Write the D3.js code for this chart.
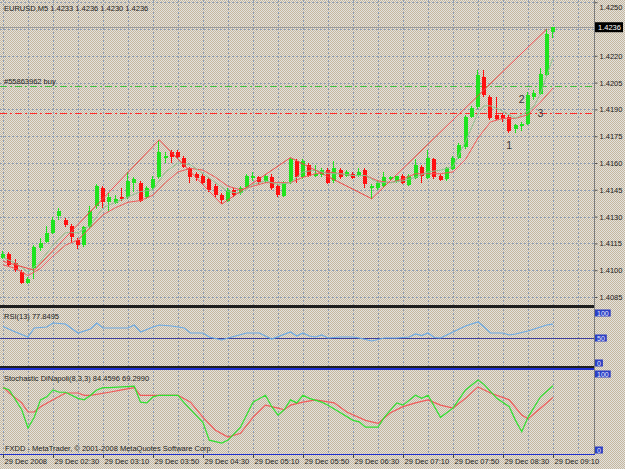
<!DOCTYPE html>
<html>
<head>
<meta charset="utf-8">
<script src="https://cdn.jsdelivr.net/npm/d3@7"></script>
<style>
  html, body { margin: 0; padding: 0; background: #d6d1c8; }
  svg { display: block; }
  text { font-family: "Liberation Sans", Arial, sans-serif; font-size: 7.5px; fill: #1c1c1c; }
</style>
</head>
<body>
<svg id="chart" width="625" height="469"></svg>
<script>
// EURUSD M5 candles, 29 Dec 2008 01:50 - 09:10
const opens = [1.4107,1.4109,1.4104,1.4099,1.4093,1.4101,1.4112,1.4116,1.4121,1.4130,1.4128,1.4125,1.4117,1.4114,1.4124,1.4136,1.4146,1.4138,1.4138,1.4141,1.4141,1.4149,1.4149,1.4141,1.4146,1.4152,1.4163,1.4166,1.4166,1.4163,1.4157,1.4154,1.4153,1.4151,1.4147,1.4142,1.4139,1.4145,1.4143,1.4147,1.4152,1.4152,1.4150,1.4152,1.4147,1.4142,1.4149,1.4161,1.4152,1.4159,1.4153,1.4153,1.4156,1.4150,1.4156,1.4153,1.4154,1.4153,1.4156,1.4146,1.4146,1.4147,1.4151,1.4150,1.4153,1.4148,1.4152,1.4158,1.4152,1.4162,1.4153,1.4151,1.4157,1.4163,1.4169,1.4186,1.4191,1.4208,1.4197,1.4187,1.4187,1.4186,1.4179,1.4181,1.4182,1.4197,1.4199,1.4209,1.4233];
const highs = [1.4111,1.4110,1.4106,1.4100,1.4096,1.4114,1.4118,1.4125,1.4130,1.4135,1.4129,1.4126,1.4118,1.4125,1.4136,1.4148,1.4147,1.4143,1.4142,1.4146,1.4155,1.4152,1.4150,1.4147,1.4153,1.4173,1.4166,1.4167,1.4167,1.4164,1.4158,1.4155,1.4154,1.4152,1.4148,1.4143,1.4146,1.4146,1.4147,1.4154,1.4155,1.4153,1.4154,1.4154,1.4148,1.4150,1.4163,1.4162,1.4162,1.4160,1.4159,1.4157,1.4157,1.4161,1.4157,1.4156,1.4155,1.4157,1.4157,1.4148,1.4150,1.4155,1.4153,1.4153,1.4154,1.4154,1.4162,1.4159,1.4167,1.4163,1.4154,1.4158,1.4164,1.4171,1.4187,1.4192,1.4212,1.4212,1.4198,1.4197,1.4188,1.4187,1.4182,1.4183,1.4200,1.4201,1.4213,1.4235,1.4236];
const lows = [1.4106,1.4102,1.4099,1.4092,1.4092,1.4095,1.4111,1.4115,1.4120,1.4128,1.4124,1.4115,1.4112,1.4113,1.4123,1.4134,1.4135,1.4133,1.4137,1.4139,1.4140,1.4144,1.4138,1.4140,1.4145,1.4151,1.4160,1.4160,1.4162,1.4157,1.4149,1.4150,1.4148,1.4144,1.4141,1.4137,1.4138,1.4141,1.4142,1.4146,1.4150,1.4148,1.4149,1.4145,1.4141,1.4141,1.4148,1.4149,1.4151,1.4152,1.4152,1.4152,1.4148,1.4149,1.4151,1.4152,1.4151,1.4152,1.4146,1.4140,1.4145,1.4146,1.4150,1.4149,1.4148,1.4147,1.4151,1.4149,1.4151,1.4151,1.4150,1.4150,1.4156,1.4162,1.4168,1.4185,1.4190,1.4197,1.4184,1.4184,1.4183,1.4177,1.4177,1.4178,1.4181,1.4195,1.4198,1.4208,1.4230];
const closes = [1.4109,1.4103,1.4100,1.4093,1.4095,1.4113,1.4115,1.4121,1.4128,1.4133,1.4125,1.4119,1.4114,1.4124,1.4133,1.4147,1.4138,1.4141,1.4140,1.4140,1.4150,1.4151,1.4139,1.4146,1.4151,1.4166,1.4164,1.4163,1.4163,1.4158,1.4152,1.4152,1.4149,1.4145,1.4142,1.4139,1.4145,1.4142,1.4146,1.4153,1.4153,1.4149,1.4153,1.4146,1.4142,1.4149,1.4162,1.4152,1.4161,1.4153,1.4154,1.4156,1.4149,1.4157,1.4152,1.4155,1.4152,1.4155,1.4148,1.4147,1.4149,1.4152,1.4152,1.4153,1.4149,1.4153,1.4159,1.4153,1.4163,1.4152,1.4151,1.4157,1.4163,1.4170,1.4186,1.4191,1.4209,1.4198,1.4185,1.4185,1.4185,1.4178,1.4181,1.4182,1.4198,1.4199,1.4210,1.4232,1.4236];

// moving averages (bar index, price)
const fastBars = [0,2,4,6,8,10,12,14,16,18,20,22,24,26,28,30,32,34,36,38,40,42,44,46,48,50,52,54,56,58,60,62,64,66,68,70,72,74,76,77,78,80,82,84,85,86,87,88];
const fastMA = [1.4107,1.4104,1.4099,1.4105,1.4114,1.4121,1.4121,1.4125,1.4135,1.4138,1.4141,1.4144,1.4145,1.4155,1.4160,1.4159,1.4154,1.4149,1.4144,1.4143,1.4148,1.4150,1.4148,1.4149,1.4155,1.4156,1.4154,1.4154,1.4153,1.4153,1.4149,1.4149,1.4150,1.4152,1.4155,1.4156,1.4158,1.4172,1.4188,1.4192,1.4192,1.4189,1.4185,1.4189,1.4192,1.4199,1.4209,1.4219];
const slowBars = [0,2,4,6,8,10,12,14,16,18,20,22,24,26,28,30,32,34,36,38,40,42,44,46,48,50,52,54,56,58,60,62,64,66,68,70,72,74,76,78,80,82,84,86,88];
const slowMA = [1.4103,1.4101,1.4097,1.4101,1.4108,1.4114,1.4117,1.4124,1.4131,1.4135,1.4138,1.4139,1.4142,1.4149,1.4155,1.4157,1.4156,1.4152,1.4147,1.4145,1.4147,1.4149,1.4149,1.4149,1.4152,1.4154,1.4155,1.4154,1.4153,1.4153,1.4150,1.4149,1.4151,1.4154,1.4154,1.4154,1.4155,1.4162,1.4174,1.4183,1.4185,1.4185,1.4187,1.4194,1.4202];

// zigzag turning points
const zzBars = [0,5,25,35,46,59,87];
const zzPrices = [1.4105,1.4100,1.4173,1.4137,1.4163,1.4140,1.4235];

// RSI(13)
const rsiBars = [0,2,4,5,7,8,10,12,14,15,16,20,21,22,24,25,27,29,30,32,33,35,36,39,41,43,46,47,48,49,50,51,52,54,56,57,59,61,63,65,66,67,68,69,70,71,72,73,74,76,77,78,80,81,82,84,86,87,88];
const rsiVals = [73,62,52,70,72,80,78,60,68,80,70,70,76,62,72,76,74,70,60,60,52,46,50,60,60,48,62,54,60,54,52,56,50,52,52,50,44,50,50,52,58,55,60,51,50,56,62,68,74,82,72,60,60,56,58,64,72,76,77.85];

// Stochastic DiNapoli(8,3,3)
const kBars = [0,1,3,4,5,6,7,8,9,10,12,13,14,15,16,17,19,21,22,23,24,25,28,29,32,33,35,36,38,40,42,43,44,45,46,47,48,49,51,52,54,56,57,58,60,61,63,64,66,67,68,70,72,74,76,77,79,81,82,83,84,86,88];
const kVals = [82,79,53,29,43,66,70,79,76,76,68,66,72,79,82,82,83,84,63,62,70,72,72,62,36,13,9,13,30,63,72,57,46,53,66,62,72,68,63,59,49,39,37,30,30,43,62,59,72,68,72,43,55,79,92,86,68,57,39,24,43,70,84.46];
const dBars = [0,1,3,4,5,6,8,10,12,13,14,17,19,21,22,24,28,30,32,34,36,38,40,42,44,45,46,48,50,53,55,58,60,62,64,66,68,70,72,74,76,78,81,83,84,86,88];
const dVals = [83,75,62,50,50,57,66,75,75,72,72,76,79,82,72,72,72,63,43,26,17,22,43,59,55,53,59,63,66,62,50,39,35,49,57,62,66,59,55,68,83,75,66,46,41,55,69.30];

// axes
const priceTicks = [1.4085,1.4100,1.4115,1.4130,1.4145,1.4160,1.4175,1.4190,1.4205,1.4220,1.4235,1.4250];
const timeBars = [0,8,16,24,32,40,48,56,64,72,80,88];
const timeLabels = ["29 Dec 2008","29 Dec 02:30","29 Dec 03:10","29 Dec 03:50","29 Dec 04:30","29 Dec 05:10","29 Dec 05:50","29 Dec 06:30","29 Dec 07:10","29 Dec 07:50","29 Dec 08:30","29 Dec 09:10"];

// objects on chart
const bidPrice = 1.4236;
const buyPrice = 1.4203;
const slPrice = 1.4188;
const marks = ["1","2","3"];
const markBars = [81,83,86];
const markPrices = [1.4170,1.4196,1.4188];

[highs, lows, closes].forEach(a => { if (a.length !== opens.length) throw new Error("ohlc length"); });

const svg = d3.select("#chart");
const W = 625, H = 469, axisX = 594;
const mainTop = 0, mainBottom = 305;
const rsiTop = 309, rsiBottom = 366;
const stTop = 371, stBottom = 453;

// dithered backdrop like the gif
const defs = svg.append("defs");
const pat = defs.append("pattern").attr("id", "dither")
    .attr("width", 2).attr("height", 2).attr("patternUnits", "userSpaceOnUse");
pat.append("rect").attr("width", 2).attr("height", 2).attr("fill", "#e2e1de");
pat.append("rect").attr("width", 1).attr("height", 1).attr("fill", "#c6b79d");
pat.append("rect").attr("x", 1).attr("y", 1).attr("width", 1).attr("height", 1).attr("fill", "#c6b79d");
svg.append("rect").attr("width", W).attr("height", H).attr("fill", "url(#dither)");

defs.append("clipPath").attr("id", "clipMain").append("rect")
    .attr("x", 0).attr("y", mainTop).attr("width", axisX).attr("height", mainBottom - mainTop);

// scales
const x = d3.scaleLinear().domain([0, 88]).range([3, 553]);
const yP = d3.scaleLinear().domain([1.4085, 1.4250]).range([297, 2.2]);
const yR = d3.scaleLinear().domain([0, 100]).range([363, 313]);
const yS = d3.scaleLinear().domain([0, 100]).range([450, 374]);

const px = v => Math.round(v) + 0.5;

// grid
const gridCol = "#8e9db3";
const grid = svg.append("g").attr("shape-rendering", "crispEdges")
    .attr("stroke", gridCol).attr("stroke-dasharray", "2,2");
const gridBars = d3.range(0, 93, 4);
[[mainTop, mainBottom], [rsiTop, rsiBottom], [stTop, stBottom]].forEach(([t, b]) => {
  grid.append("g").selectAll("line").data(gridBars).join("line")
    .attr("x1", d => px(x(d))).attr("x2", d => px(x(d)))
    .attr("y1", t).attr("y2", b);
});
grid.append("g").selectAll("line").data(priceTicks).join("line")
    .attr("x1", 0).attr("x2", axisX)
    .attr("y1", d => px(yP(d))).attr("y2", d => px(yP(d)));

const main = svg.append("g").attr("clip-path", "url(#clipMain)");

// bid line
main.append("line").attr("x1", 0).attr("x2", axisX)
    .attr("y1", px(yP(bidPrice))).attr("y2", px(yP(bidPrice)))
    .attr("stroke", "#9a9a9a").attr("shape-rendering", "crispEdges");

// order and stop lines
main.append("line").attr("x1", 0).attr("x2", axisX)
    .attr("y1", px(yP(buyPrice))).attr("y2", px(yP(buyPrice)))
    .attr("stroke", "#3fc03f").attr("stroke-dasharray", "7,3,2,3").attr("shape-rendering", "crispEdges");
main.append("line").attr("x1", 0).attr("x2", axisX)
    .attr("y1", px(yP(slPrice))).attr("y2", px(yP(slPrice)))
    .attr("stroke", "#ff2a2a").attr("stroke-dasharray", "7,3,2,3").attr("shape-rendering", "crispEdges");
main.append("text").attr("x", 4).attr("y", yP(buyPrice) - 2).text("#55863962 buy");

// candles
const bull = "#1ee41e", bear = "#ff1010";
const candles = d3.range(opens.length).map(i => ({ i, o: opens[i], h: highs[i], l: lows[i], c: closes[i] }));
const gC = main.append("g").attr("shape-rendering", "crispEdges");
gC.selectAll("line").data(candles).join("line")
    .attr("x1", d => Math.round(x(d.i)) - 0.5).attr("x2", d => Math.round(x(d.i)) - 0.5)
    .attr("y1", d => yP(d.h)).attr("y2", d => yP(d.l))
    .attr("stroke", d => d.c >= d.o ? bull : bear);
gC.selectAll("rect").data(candles).join("rect")
    .attr("x", d => Math.round(x(d.i)) - 2).attr("width", 4)
    .attr("y", d => Math.round(yP(Math.max(d.o, d.c))))
    .attr("height", d => Math.max(1, Math.round(Math.abs(yP(d.o) - yP(d.c)))))
    .attr("fill", d => d.c >= d.o ? bull : bear);

// indicator lines on price
const lineP = d3.line().x(d => x(d[0])).y(d => yP(d[1]));
main.append("path").datum(d3.zip(slowBars, slowMA)).attr("d", lineP)
    .attr("fill", "none").attr("stroke", "#f05a5a").attr("stroke-width", 1);
main.append("path").datum(d3.zip(fastBars, fastMA)).attr("d", lineP)
    .attr("fill", "none").attr("stroke", "#8fc08f").attr("stroke-width", 1);
main.append("path").datum(d3.zip(zzBars, zzPrices)).attr("d", lineP)
    .attr("fill", "none").attr("stroke", "#f04848").attr("stroke-width", 1);

// wave count marks
main.selectAll("text.mark").data(d3.zip(marks, markBars, markPrices)).join("text")
    .attr("class", "mark")
    .attr("x", d => x(d[1])).attr("y", d => yP(d[2]) + 4)
    .attr("text-anchor", "middle")
    .style("font-size", "10.5px").style("fill", "#3a3a3a")
    .text(d => d[0]);

// header
svg.append("text").attr("x", 4).attr("y", 10.5)
    .text(`EURUSD,M5  ${opens[88].toFixed(4)} ${highs[88].toFixed(4)} ${lows[88].toFixed(4)} ${closes[88].toFixed(4)}`);

// price axis
const pAxis = d3.axisRight(yP).tickValues(priceTicks).tickSize(3).tickPadding(2)
    .tickFormat(d => Math.abs(d - bidPrice) < 0.0004 ? "" : d.toFixed(4));
const gPA = svg.append("g").attr("transform", `translate(${axisX + 0.5},0)`).call(pAxis);
gPA.select(".domain").remove();
gPA.selectAll(".tick line").attr("stroke", "#555");
gPA.selectAll(".tick text").attr("dy", d => d === 1.4250 ? "1em" : "0.32em")
    .style("font-size", "7.5px").style("fill", "#1c1c1c")
    .style("font-family", '"Liberation Sans", Arial, sans-serif');

svg.append("rect").attr("x", axisX + 1).attr("y", yP(bidPrice) - 5).attr("width", 28).attr("height", 10)
    .attr("fill", "#000");
svg.append("text").attr("x", axisX + 4).attr("y", yP(bidPrice) + 2.8)
    .style("fill", "#fff").text(bidPrice.toFixed(4));

// RSI panel
const lineR = d3.line().x(d => x(d[0])).y(d => yR(d[1]));
svg.append("line").attr("x1", 0).attr("x2", axisX).attr("y1", px(yR(50))).attr("y2", px(yR(50)))
    .attr("stroke", "#3d3d9a").attr("shape-rendering", "crispEdges");
svg.append("path").datum(d3.zip(rsiBars, rsiVals)).attr("d", lineR)
    .attr("fill", "none").attr("stroke", "#6aaae6").attr("stroke-width", 1.2);
svg.append("text").attr("x", 4).attr("y", rsiTop + 10).text(`RSI(13) ${(77.8495).toFixed(4)}`);

// Stochastic panel
const lineS = d3.line().x(d => x(d[0])).y(d => yS(d[1]));
svg.append("path").datum(d3.zip(dBars, dVals)).attr("d", lineS)
    .attr("fill", "none").attr("stroke", "#f05a5a").attr("stroke-width", 1.2);
svg.append("path").datum(d3.zip(kBars, kVals)).attr("d", lineS)
    .attr("fill", "none").attr("stroke", "#2ee02e").attr("stroke-width", 1.2);
svg.append("text").attr("x", 4).attr("y", stTop + 9.5)
    .text(`Stochastic DiNapoli(8,3,3) ${(84.4596).toFixed(4)} ${(69.2990).toFixed(4)}`);
svg.append("text").attr("x", 5).attr("y", 451)
    .text("FXDD - MetaTrader, \u00a9 2001-2008 MetaQuotes Software Corp.");

// level boxes on sub-window scales
function levelBox(yv, label) {
  const g = svg.append("g");
  const t = g.append("text").attr("x", axisX + 3).attr("y", yv + 2.6)
      .style("font-size", "7px").style("fill", "#e8ecff").text(label);
  const w = t.node().getComputedTextLength();
  g.insert("rect", "text").attr("x", axisX + 1).attr("y", yv - 3.5).attr("width", w + 4).attr("height", 7)
      .attr("fill", "#2c3fc4");
}
levelBox(yR(100), "100");
levelBox(yR(50), "50");
levelBox(yR(0), "0");
levelBox(yS(100), "100");
levelBox(yS(0), "0");

// separators and frame
const sep = svg.append("g").attr("shape-rendering", "crispEdges");
sep.append("rect").attr("x", 0).attr("y", 305).attr("width", axisX + 1).attr("height", 3).attr("fill", "#1e1e1e");
sep.append("rect").attr("x", 0).attr("y", 366).attr("width", axisX + 1).attr("height", 2).attr("fill", "#1e1e1e");
sep.append("rect").attr("x", 0).attr("y", 368).attr("width", axisX + 1).attr("height", 2).attr("fill", "#1f2fd0");
sep.append("line").attr("x1", axisX + 0.5).attr("x2", axisX + 0.5).attr("y1", 0).attr("y2", 454)
    .attr("stroke", "#7c7c7c");

// time axis
const tAxis = d3.axisBottom(x).tickValues(timeBars).tickSize(4).tickPadding(2)
    .tickFormat((d, i) => timeLabels[i]);
const gTA = svg.append("g").attr("transform", "translate(0,454)").call(tAxis);
gTA.select(".domain").attr("d", `M0,0.5H${axisX + 1}`).attr("stroke", "#1f2fd0")
    .attr("shape-rendering", "crispEdges");
gTA.selectAll(".tick line").attr("stroke", "#444").attr("shape-rendering", "crispEdges");
gTA.selectAll(".tick text").attr("text-anchor", "start").attr("x", 1).attr("y", 0).attr("dy", "9.5px")
    .style("font-size", "7.5px").style("fill", "#1c1c1c")
    .style("font-family", '"Liberation Sans", Arial, sans-serif');
</script>
</body>
</html>
